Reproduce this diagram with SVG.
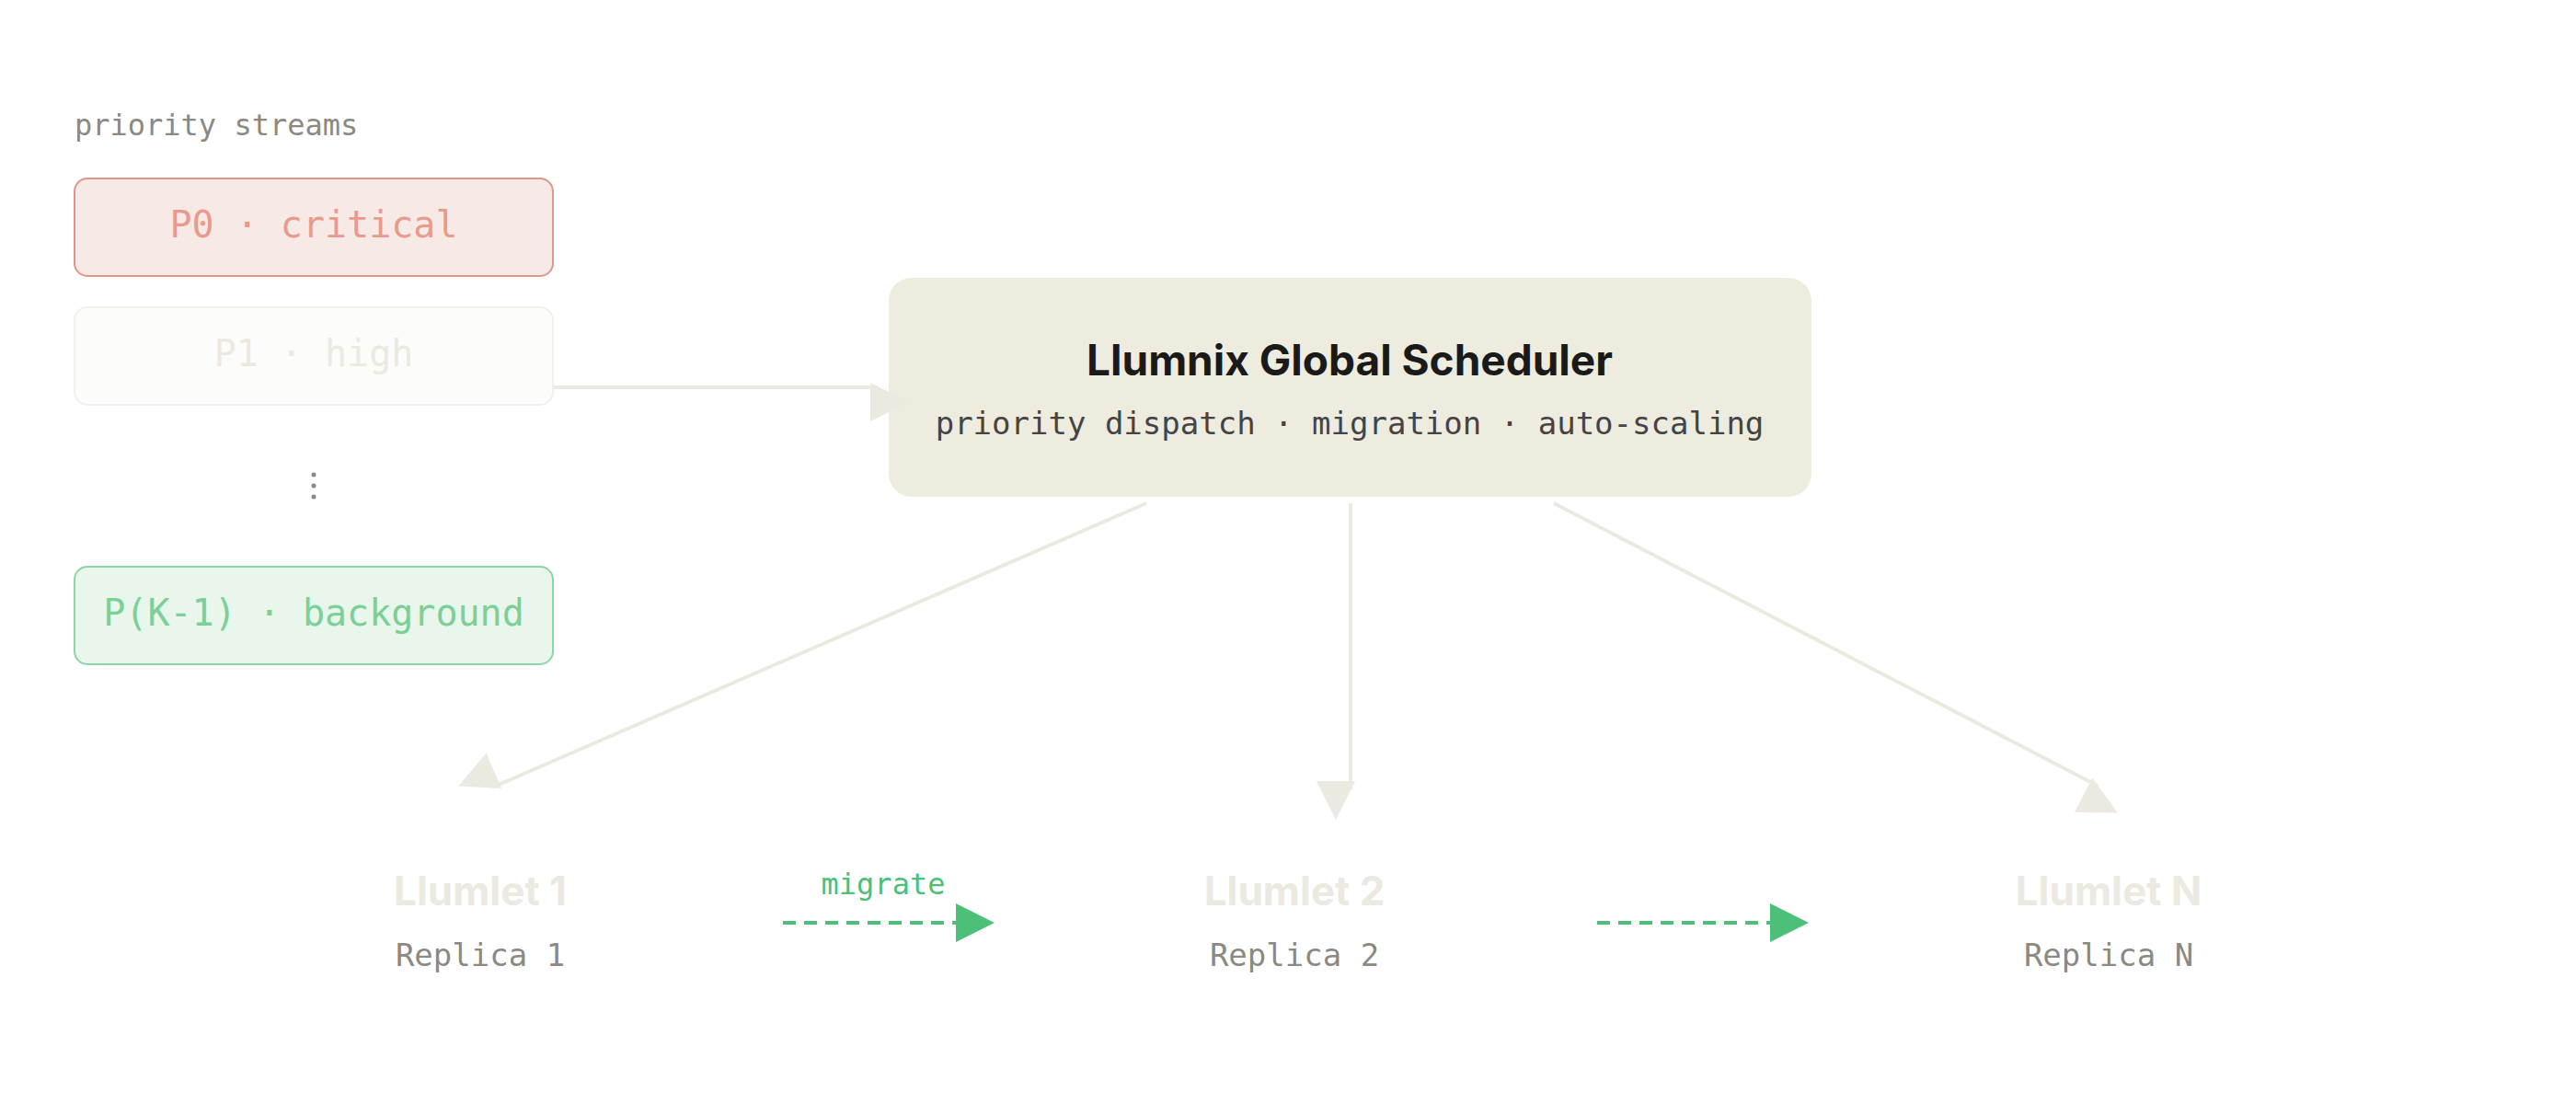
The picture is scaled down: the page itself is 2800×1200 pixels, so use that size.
<svg xmlns="http://www.w3.org/2000/svg" width="2800" height="1200" viewBox="0 0 2800 1200">
<style>
.mono{font-family:"DejaVu Sans Mono","Liberation Mono",monospace}
.sans{font-family:Inter,"Liberation Sans",sans-serif}
.conn{stroke:#ece9e1;stroke-width:4;fill:none}
.mig{stroke:#4cbf78;stroke-width:4;stroke-dasharray:14 9;fill:none}
</style>
<defs>
<marker id="ah" markerWidth="10" markerHeight="10" refX="9" refY="5" orient="auto" markerUnits="userSpaceOnUse" viewBox="0 0 10 10" style="overflow:visible">
<path d="M0,0 L10,5 L0,10 Z" fill="#ece9e1" transform="scale(4.2)"/>
</marker>
<marker id="ag" markerWidth="10" markerHeight="10" refX="0" refY="5" orient="auto" markerUnits="userSpaceOnUse" viewBox="0 0 10 10" style="overflow:visible">
<path d="M0,0 L10,5 L0,10 Z" fill="#4cbf78" transform="translate(0,-16) scale(4.2)"/>
</marker>
</defs>
<rect width="2800" height="1200" fill="#ffffff"/>
<text x="81" y="147" class="mono" font-size="32" fill="#8a8a82">priority streams</text>
<g id="p0">
<rect x="81" y="194" width="520" height="106" rx="14" fill="#f7e9e6" stroke="#e09688" stroke-width="2"/>
<text x="341" y="258" class="mono" font-size="40" fill="#e89b8c" text-anchor="middle">P0 · critical</text>
</g>
<g id="p1">
<rect x="81" y="334" width="520" height="106" rx="14" fill="#fcfcfa" stroke="#f3f1ec" stroke-width="2"/>
<text x="341" y="398" class="mono" font-size="40" fill="#ece9e1" text-anchor="middle">P1 · high</text>
</g>
<g id="dots">
<circle cx="341" cy="516" r="2.5" fill="#8a8a82"/><circle cx="341" cy="528" r="2.5" fill="#8a8a82"/><circle cx="341" cy="540" r="2.5" fill="#8a8a82"/>
</g>
<g id="pk">
<rect x="81" y="616" width="520" height="106" rx="14" fill="#e8f6ec" stroke="#8dd4a6" stroke-width="2"/>
<text x="341" y="680" class="mono" font-size="40" fill="#7dcf98" text-anchor="middle">P(K-1) · background</text>
</g>
<g id="scheduler">
<rect x="966" y="302" width="1003" height="238" rx="25" fill="#eeebdf"/>
<text x="1467" y="408" class="sans" font-size="46" font-weight="700" fill="#1a1a1a" text-anchor="middle">Llumnix Global Scheduler</text>
<text x="1467" y="472" class="mono" font-size="34" fill="#444" text-anchor="middle">priority dispatch · migration · auto-scaling</text>
</g>
<g id="l1">
<text x="522" y="984" class="sans" font-size="44" font-weight="700" fill="#ece9e1" text-anchor="middle">Llumlet 1</text>
<text x="522" y="1050" class="mono" font-size="34" fill="#8a8a82" text-anchor="middle">Replica 1</text>
</g>
<g id="l2">
<text x="1407" y="984" class="sans" font-size="44" font-weight="700" fill="#ece9e1" text-anchor="middle">Llumlet 2</text>
<text x="1407" y="1050" class="mono" font-size="34" fill="#8a8a82" text-anchor="middle">Replica 2</text>
</g>
<g id="ln">
<text x="2292" y="984" class="sans" font-size="44" font-weight="700" fill="#ece9e1" text-anchor="middle">Llumlet N</text>
<text x="2292" y="1050" class="mono" font-size="34" fill="#8a8a82" text-anchor="middle">Replica N</text>
</g>
<g id="connectors">
<line x1="601" y1="421" x2="955" y2="421" class="conn" marker-end="url(#ah)"/>
<line x1="1246" y1="547" x2="535" y2="856" class="conn" marker-end="url(#ah)"/>
<line x1="1468" y1="547" x2="1468" y2="858" class="conn" marker-end="url(#ah)"/>
<line x1="1689" y1="547" x2="2280" y2="854" class="conn" marker-end="url(#ah)"/>
<line x1="851" y1="1003" x2="1039" y2="1003" class="mig" marker-end="url(#ag)"/>
<line x1="1736" y1="1003" x2="1924" y2="1003" class="mig" marker-end="url(#ag)"/>
<text x="960" y="972" class="mono" font-size="32" fill="#4cbf78" text-anchor="middle">migrate</text>
</g>
</svg>
